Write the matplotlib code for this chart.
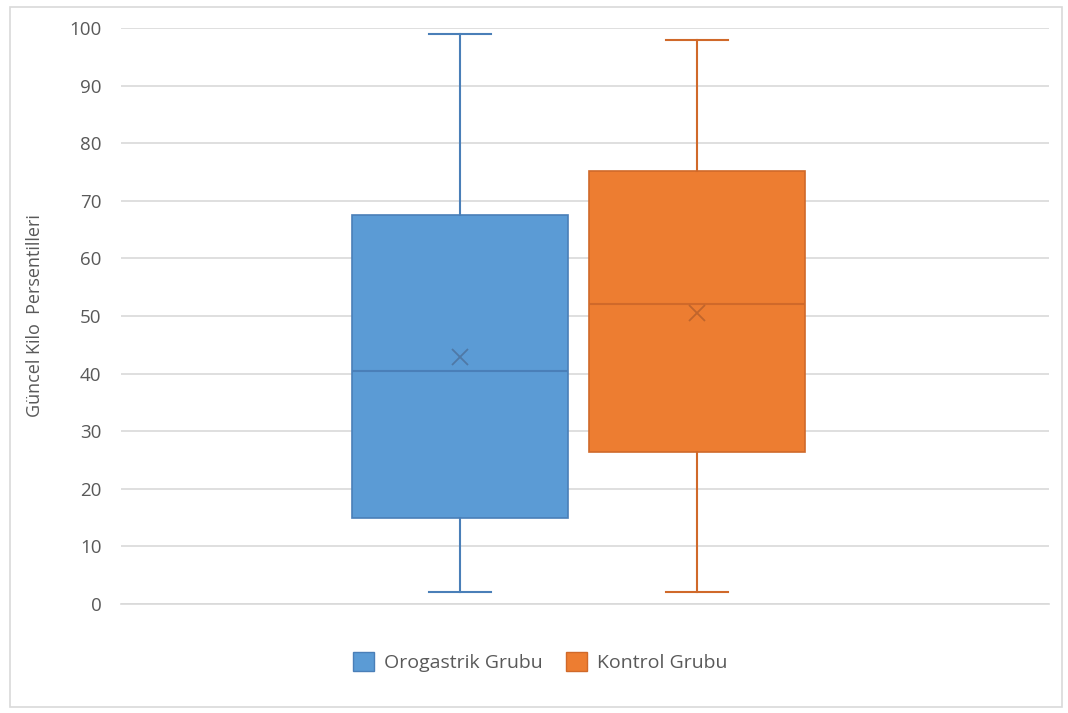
import matplotlib
matplotlib.use("Agg")
import matplotlib.pyplot as plt
from matplotlib.patches import Rectangle, Patch

plt.rcParams['font.family'] = ['Open Sans', 'DejaVu Sans']

groups = ["Orogastrik Grubu", "Kontrol Grubu"]
q1 = [14.9, 26.4]
median = [40.4, 52.1]
q3 = [67.5, 75.2]
whislo = [2.1, 2.1]
whishi = [99.0, 97.9]
mean = [42.9, 50.5]
yticks = [0, 10, 20, 30, 40, 50, 60, 70, 80, 90, 100]
ylabel = "Güncel Kilo  Persentilleri"

fill_colors = ["#5b9bd5", "#ed7d31"]
edge_colors = ["#4a7fb8", "#d0692a"]
mean_colors = ["#4f79a6", "#c0652c"]

fig = plt.figure(figsize=(10.68, 7.13), dpi=100)
ax = fig.add_axes([121/1068, 1-604/713, 928/1068, 576/713])

positions = [0.3653, 0.6207]
width = 0.2328
stats = []
for i in range(len(groups)):
    stats.append(dict(med=median[i], q1=q1[i], q3=q3[i], whislo=whislo[i],
                      whishi=whishi[i], mean=mean[i], fliers=[], label=groups[i]))

for i in range(len(groups)):
    ax.bxp([stats[i]], positions=[positions[i]], widths=width, capwidths=0.066,
           showmeans=True, patch_artist=True, manage_ticks=False,
           boxprops=dict(facecolor=fill_colors[i], edgecolor=edge_colors[i], linewidth=1.2),
           whiskerprops=dict(color=edge_colors[i], linewidth=1.5),
           capprops=dict(color=edge_colors[i], linewidth=1.5),
           medianprops=dict(color=edge_colors[i], linewidth=1.5),
           meanprops=dict(marker='x', markeredgecolor=mean_colors[i], markersize=11,
                          markeredgewidth=1.3))

ax.set_xlim(0, 1)
ax.set_ylim(0, 100)
ax.set_yticks(yticks)
ax.set_xticks([])
ax.grid(axis='y', color='#d9d9d9', linewidth=1.2)
ax.set_axisbelow(True)
for s in ['top', 'right', 'left']:
    ax.spines[s].set_visible(False)
ax.spines['bottom'].set_color('#d9d9d9')
ax.spines['bottom'].set_linewidth(1.2)
ax.tick_params(axis='y', length=0, pad=14, labelsize=13.5, labelcolor='#595959')
ax.set_ylabel(ylabel, fontsize=13, color='#595959')
ax.yaxis.set_label_coords(-(121-44)/928, 0.5)

handles = [Patch(facecolor=fill_colors[i], edgecolor=edge_colors[i], label=groups[i])
           for i in range(len(groups))]
fig.legend(handles=handles, loc='center', bbox_to_anchor=(540/1068, 1-662/713),
           ncol=2, frameon=False, fontsize=14, labelcolor='#595959',
           handlelength=1.1, handleheight=1.1, columnspacing=1.2, handletextpad=0.5)

fig.patches.append(Rectangle((10/1068, 6/713), 1052/1068, 700/713, transform=fig.transFigure,
                             fill=False, edgecolor='#d9d9d9', linewidth=1.2))

fig.savefig("out.png", dpi=100, facecolor='white')
